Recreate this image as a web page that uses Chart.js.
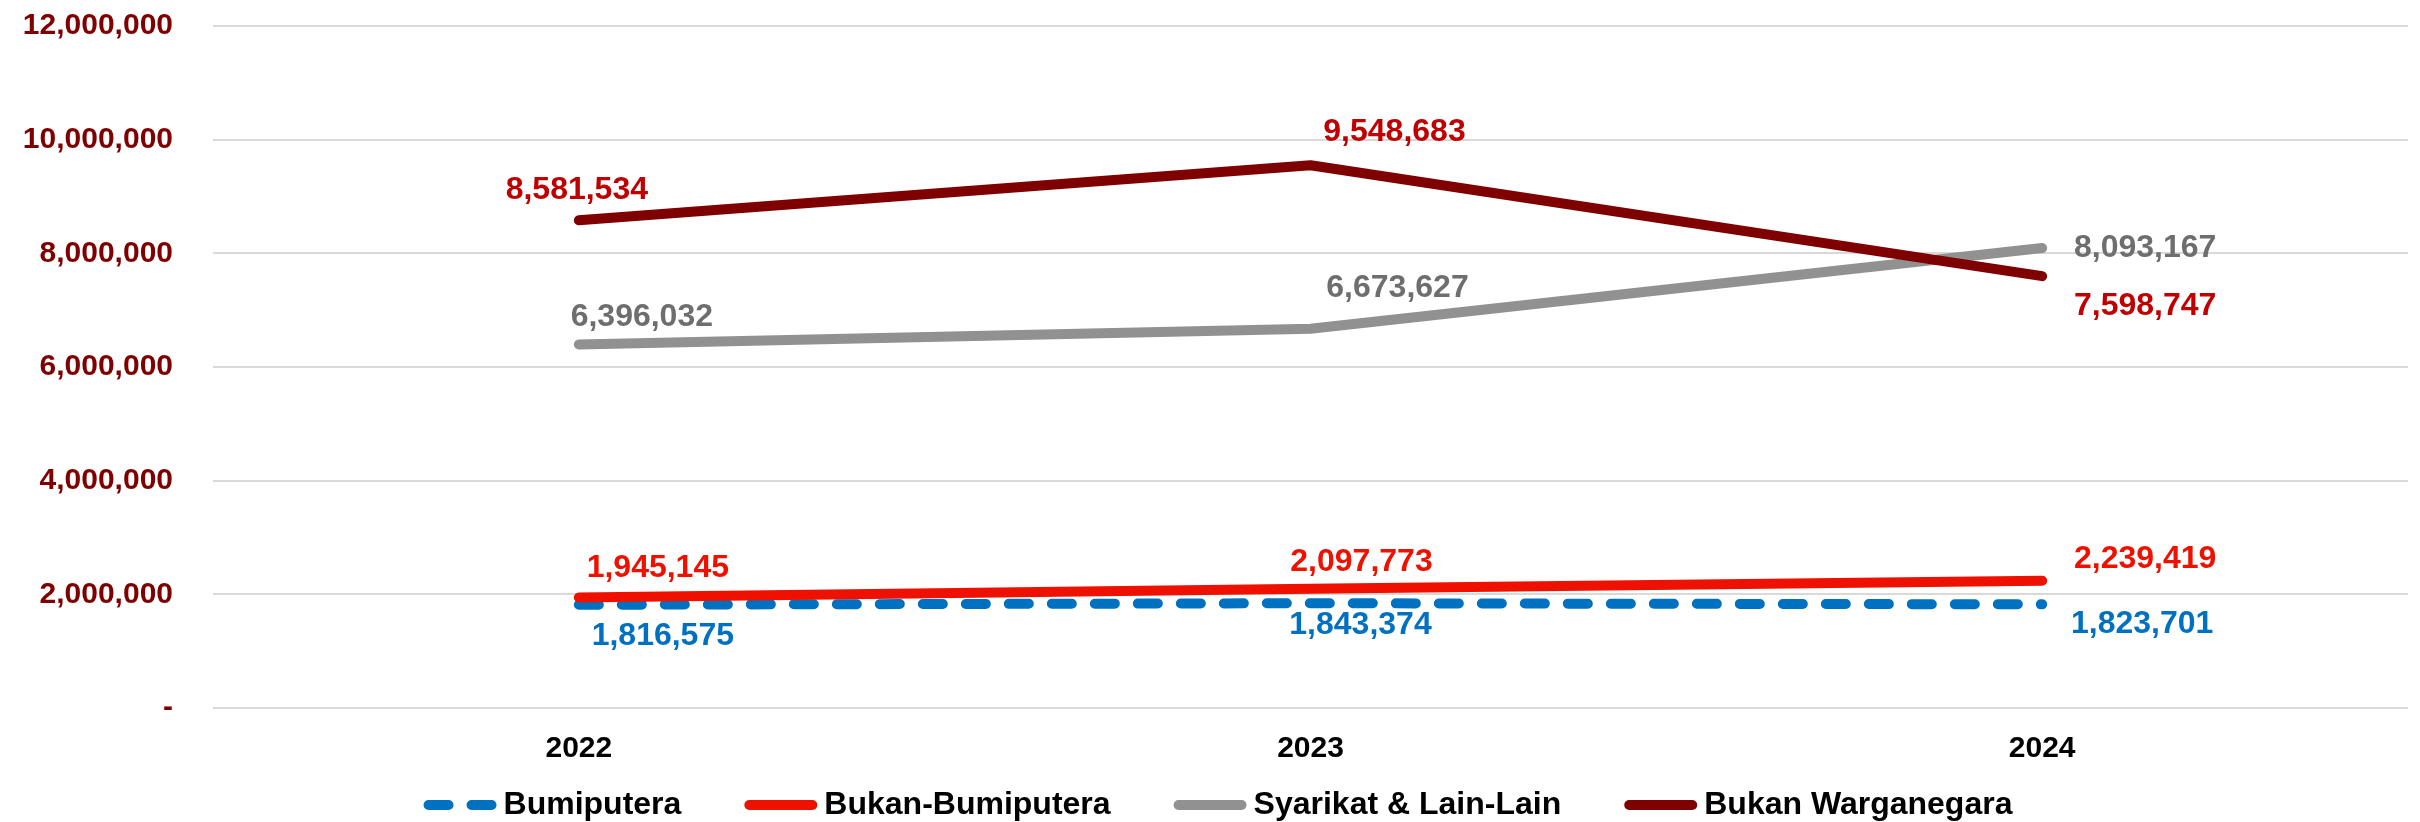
<!DOCTYPE html>
<html>
<head>
<meta charset="utf-8">
<title>Line chart</title>
<script src="https://cdn.jsdelivr.net/npm/chart.js@4.4.0/dist/chart.umd.min.js"></script>
<style>
  html, body { margin: 0; padding: 0; background: #fff; }
</style>
</head>
<body>
<canvas id="chart" width="2420" height="822"></canvas>
<script>
// data
const years = ["2022", "2023", "2024"];
const bumiputera = [1816575, 1843374, 1823701];
const bukanBumiputera = [1945145, 2097773, 2239419];
const syarikat = [6396032, 6673627, 8093167];
const bukanWarganegara = [8581534, 9548683, 7598747];
const yTicks = [0, 2000000, 4000000, 6000000, 8000000, 10000000, 12000000];

const FONT_FAMILY = "'Liberation Sans', Arial, sans-serif";
const LABEL_FONT = "bold 32px " + FONT_FAMILY;

// value labels, drawn next to each point (offsets in px from the point)
const pointLabels = {
  id: "pointLabels",
  afterDatasetsDraw(chart) {
    const ctx = chart.ctx;
    ctx.save();
    ctx.font = LABEL_FONT;
    ctx.textAlign = "center";
    ctx.textBaseline = "middle";
    chart.data.datasets.forEach((ds, i) => {
      chart.getDatasetMeta(i).data.forEach((pt, j) => {
        const off = ds.labelOffset[j];
        ctx.fillStyle = ds.labelColor;
        ctx.fillText(ds.data[j].toLocaleString("en-US"), pt.x + off[0], pt.y + off[1]);
      });
    });
    ctx.restore();
  }
};

// legend under the axis, line sample right before the text
const bottomLegend = {
  id: "bottomLegend",
  afterDraw(chart) {
    const ctx = chart.ctx;
    const sample = 73, gapText = 7, gapItem = 63, y = 805;
    ctx.save();
    ctx.font = LABEL_FONT;
    ctx.textBaseline = "middle";
    const items = chart.data.datasets.map(ds => ({ ds, w: ctx.measureText(ds.label).width }));
    const total = items.reduce((s, it) => s + sample + gapText + it.w, 0) + gapItem * (items.length - 1);
    let x = (chart.width - total) / 2 + 8;
    items.forEach(it => {
      ctx.beginPath();
      ctx.lineWidth = it.ds.borderWidth;
      ctx.lineCap = "round";
      ctx.strokeStyle = it.ds.borderColor;
      ctx.setLineDash(it.ds.borderDash || []);
      ctx.moveTo(x + 5, y);
      ctx.lineTo(x + sample - 5, y);
      ctx.stroke();
      ctx.setLineDash([]);
      ctx.fillStyle = "#000";
      ctx.fillText(it.ds.label, x + sample + gapText, y);
      x += sample + gapText + it.w + gapItem;
    });
    ctx.restore();
  }
};

const lineStyle = {
  borderWidth: 10,
  borderCapStyle: "round",
  borderJoinStyle: "round",
  pointRadius: 0,
  pointHoverRadius: 0,
  tension: 0,
  fill: false
};

new Chart(document.getElementById("chart"), {
  type: "line",
  data: {
    labels: years,
    datasets: [
      {
        ...lineStyle,
        label: "Bumiputera",
        data: bumiputera,
        borderColor: "#0070c0",
        borderDash: [20, 23],
        labelColor: "#0070c0",
        labelOffset: [[84, 31], [50, 22], [100, 20]],
        order: 4
      },
      {
        ...lineStyle,
        label: "Bukan-Bumiputera",
        data: bukanBumiputera,
        borderColor: "#ee1100",
        labelColor: "#ee1100",
        labelOffset: [[79, -29], [51, -27], [103, -22]],
        order: 3
      },
      {
        ...lineStyle,
        label: "Syarikat & Lain-Lain",
        data: syarikat,
        borderColor: "#919191",
        labelColor: "#6e6e6e",
        labelOffset: [[63, -27], [87, -41], [103, 0]],
        order: 2
      },
      {
        ...lineStyle,
        label: "Bukan Warganegara",
        data: bukanWarganegara,
        borderColor: "#7f0000",
        labelColor: "#c00000",
        labelOffset: [[-2, -30], [84, -33], [103, 30]],
        order: 1
      }
    ]
  },
  options: {
    responsive: false,
    animation: false,
    devicePixelRatio: 1,
    layout: { padding: { top: 0, right: 12, bottom: 0, left: 0 } },
    plugins: {
      legend: { display: false },
      tooltip: { enabled: false }
    },
    scales: {
      x: {
        offset: true,
        grid: { display: false, drawTicks: false, offset: true },
        border: { display: false },
        ticks: {
          color: "#000",
          padding: 23,
          font: { family: FONT_FAMILY, size: 30, weight: "bold" }
        },
        afterFit: scale => { scale.height = 114; }
      },
      y: {
        min: 0,
        max: 12000000,
        afterBuildTicks: scale => { scale.ticks = yTicks.map(v => ({ value: v })); },
        grid: { color: "#d9d9d9", lineWidth: 2, drawTicks: true, tickLength: 32, tickColor: "rgba(0,0,0,0)" },
        border: { display: false },
        ticks: {
          color: "#7f0000",
          padding: 8,
          font: { family: FONT_FAMILY, size: 30, weight: "bold" },
          callback: v => v === 0 ? "-" : v.toLocaleString("en-US")
        },
        afterFit: scale => { scale.width = 213; }
      }
    }
  },
  plugins: [pointLabels, bottomLegend]
});
</script>
</body>
</html>
